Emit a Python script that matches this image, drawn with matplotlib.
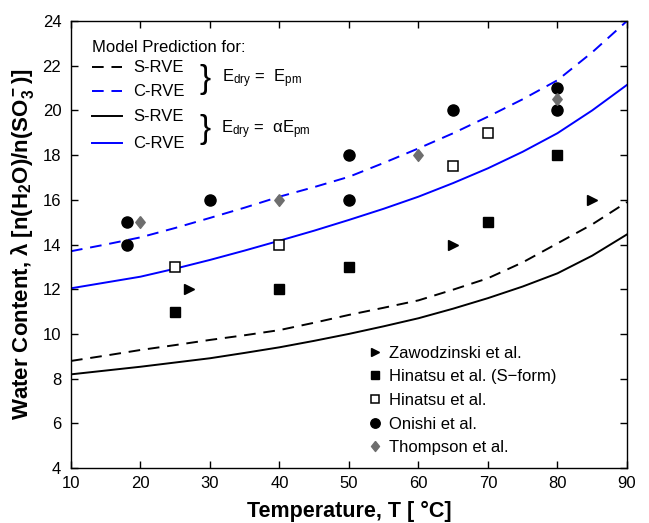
import numpy as np
import matplotlib
matplotlib.use("Agg")
import matplotlib.pyplot as plt
from matplotlib.lines import Line2D

plt.rcParams['font.family'] = ['Liberation Sans', 'DejaVu Sans']
plt.rcParams['mathtext.fontset'] = 'custom'
plt.rcParams['mathtext.rm'] = 'Liberation Sans'
plt.rcParams['mathtext.it'] = 'Liberation Sans'
plt.rcParams['mathtext.bf'] = 'Liberation Sans:bold'

# Model curves
T_model = [10, 15, 20, 25, 30, 35, 40, 45, 50, 55, 60, 65, 70, 75, 80, 85, 90]
crve_dash = [13.7, 14.0, 14.32, 14.74, 15.19, 15.65, 16.14, 16.57, 17.03, 17.65, 18.3, 18.98, 19.72, 20.5, 21.35, 22.6, 24.0]
crve_solid = [12.04, 12.3, 12.56, 12.92, 13.31, 13.73, 14.17, 14.62, 15.1, 15.6, 16.14, 16.75, 17.41, 18.15, 18.98, 20.0, 21.14]
srve_dash = [8.79, 9.03, 9.28, 9.5, 9.73, 9.94, 10.17, 10.5, 10.85, 11.17, 11.5, 11.98, 12.49, 13.2, 14.05, 14.9, 15.9]
srve_solid = [8.19, 8.36, 8.53, 8.72, 8.91, 9.15, 9.40, 9.69, 10.0, 10.34, 10.7, 11.13, 11.6, 12.12, 12.71, 13.5, 14.45]

# Experimental data
zaw_T = [27, 65, 85]
zaw_l = [12, 14, 16]
hinS_T = [25, 40, 50, 70, 80]
hinS_l = [11, 12, 13, 15, 18]
hin_T = [25, 40, 65, 70]
hin_l = [13, 14, 17.5, 19]
oni_T = [18, 18, 30, 50, 50, 65, 80, 80]
oni_l = [15, 14, 16, 18, 16, 20, 21, 20]
tho_T = [20, 40, 60, 80]
tho_l = [15, 16, 18, 20.5]

diamond = [(0, 1), (0.8, 0), (0, -1), (-0.8, 0), (0, 1)]

fig = plt.figure(figsize=(6.49, 5.23), dpi=100)
ax = fig.add_axes([0.1094, 0.1052, 0.8566, 0.8546])

ax.plot(T_model, srve_dash, color='black', ls=(0, (6, 4)), lw=1.4)
ax.plot(T_model, crve_dash, color='#0000ff', ls=(0, (6, 4)), lw=1.4)
ax.plot(T_model, srve_solid, color='black', lw=1.4)
ax.plot(T_model, crve_solid, color='#0000ff', lw=1.4)

ax.plot(zaw_T, zaw_l, ls='none', marker='>', color='black', ms=7.5,
        label='Zawodzinski et al.')
ax.plot(hinS_T, hinS_l, ls='none', marker='s', color='black', ms=6.5,
        label='Hinatsu et al. (S\u2212form)')
ax.plot(hin_T, hin_l, ls='none', marker='s', mfc='white', mec='black', mew=1.1,
        ms=6.5, label='Hinatsu et al.')
ax.plot(oni_T, oni_l, ls='none', marker='o', color='black', ms=8,
        label='Onishi et al.')
ax.plot(tho_T, tho_l, ls='none', marker=diamond, color='#6e6e6e', ms=8.5,
        label='Thompson et al.')

ax.legend(loc='lower right', bbox_to_anchor=(0.9, -0.005), frameon=False,
          fontsize=12, handletextpad=0.1, labelspacing=0.52, handlelength=1.5,
          markerscale=0.85)

# model legend (top left)
ax.text(0.038, 0.94, 'Model Prediction for:', transform=ax.transAxes,
        fontsize=12, va='center')
rows = [(0.897, 'black', (0, (6, 4))), (0.843, '#0000ff', (0, (6, 4))),
        (0.787, 'black', '-'), (0.727, '#0000ff', '-')]
for yy, c, ls in rows:
    ax.add_line(Line2D([0.037, 0.092], [yy, yy], transform=ax.transAxes,
                       color=c, ls=ls, lw=1.4))
    ax.text(0.112, yy, 'S-RVE' if c == 'black' else 'C-RVE',
            transform=ax.transAxes, fontsize=12, va='center')
ax.text(0.232, 0.870, '}', transform=ax.transAxes, fontsize=24,
        va='center', ha='left', fontweight='light')
ax.text(0.232, 0.757, '}', transform=ax.transAxes, fontsize=24,
        va='center', ha='left', fontweight='light')
ax.text(0.272, 0.870, r'E$_{\mathrm{dry}}$ =  E$_{\mathrm{pm}}$',
        transform=ax.transAxes, fontsize=12, va='center')
ax.text(0.27, 0.757, 'E$_{\\mathrm{dry}}$ =  \u03b1E$_{\\mathrm{pm}}$',
        transform=ax.transAxes, fontsize=12, va='center')

ax.set_xlim(10, 90)
ax.set_ylim(4, 24)
ax.set_xticks(np.arange(10, 91, 10))
ax.set_yticks(np.arange(4, 25, 2))
ax.tick_params(direction='in', top=True, right=True, labelsize=12,
               length=5, width=1)
ax.tick_params(axis='x', pad=6)
ax.tick_params(axis='y', pad=7)
for s in ax.spines.values():
    s.set_linewidth(1.0)

ax.set_xlabel('Temperature, T [ \u00b0C]', fontsize=15.5, fontweight='bold',
              labelpad=7)
ax.set_ylabel('Water Content, \u03bb [n(H$\\mathbf{_2}$O)/n(SO$\\mathbf{_3^-}$)]',
              fontsize=16, fontweight='bold', labelpad=5)

fig.savefig('out.png', dpi=100)
